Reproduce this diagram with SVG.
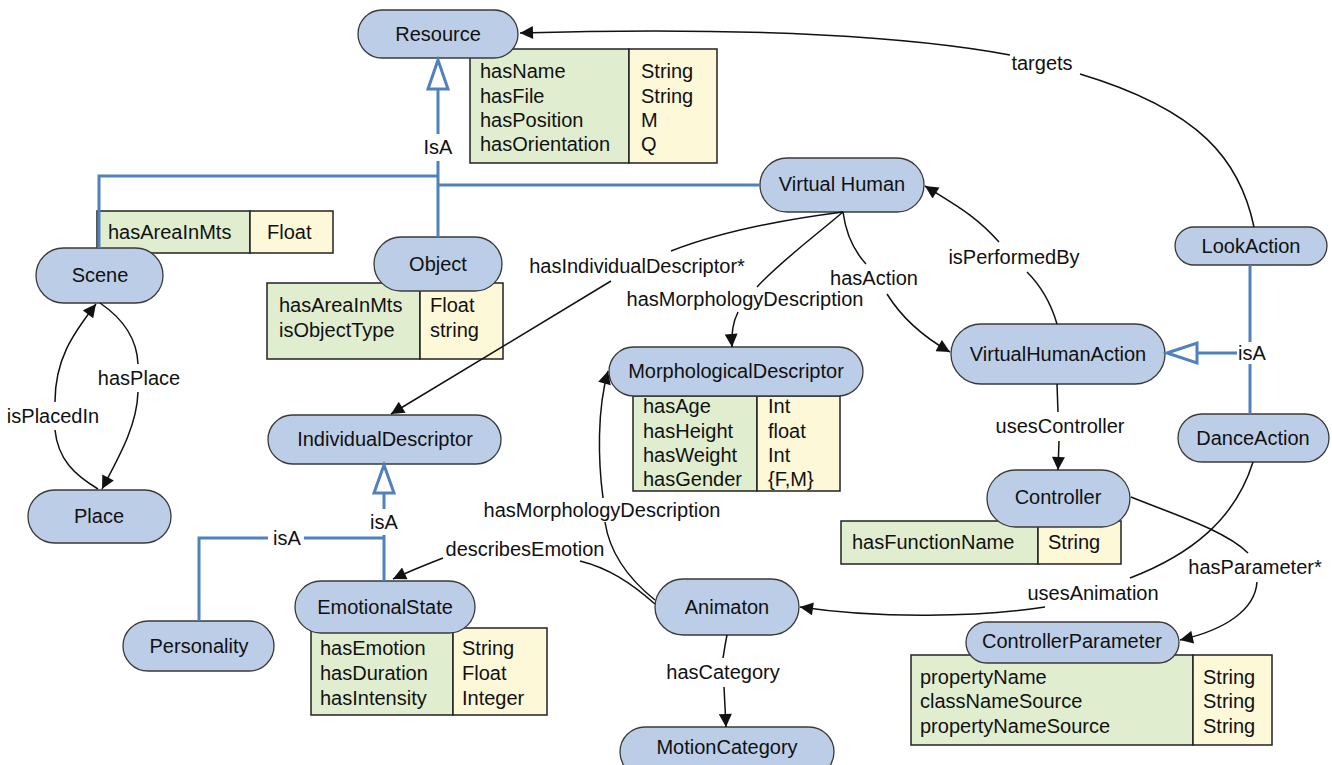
<svg xmlns="http://www.w3.org/2000/svg" width="1332" height="765" viewBox="0 0 1332 765">
<defs>
<style>
text{font-family:"Liberation Sans",Arial,sans-serif;font-size:20px;fill:#111}
.lbl{text-anchor:middle}
.pill{fill:#bccee7;stroke:#3a3a3a;stroke-width:1.3}
.g{fill:#e0eecf;stroke:#222;stroke-width:1.5}
.y{fill:#fdf8d7;stroke:#222;stroke-width:1.5}
.e{fill:none;stroke:#111;stroke-width:1.5}
.b{fill:none;stroke:#4f81bd;stroke-width:3}
.tri{fill:#fff;stroke:#4f81bd;stroke-width:3}
</style>
<marker id="arr" viewBox="0 0 10 10" refX="10" refY="5" markerWidth="15" markerHeight="13" orient="auto" markerUnits="userSpaceOnUse"><path d="M0,0 L10,5 L0,10 z" fill="#111"/></marker>
</defs>
<rect width="1332" height="765" fill="#fff"/>

<g id="resource">
<rect class="g" x="470" y="49" width="159" height="114"/><rect class="y" x="629" y="49" width="88" height="114"/>
<text x="480" y="78">hasName</text><text x="480" y="103">hasFile</text><text x="480" y="127">hasPosition</text><text x="480" y="151">hasOrientation</text>
<text x="641" y="78">String</text><text x="641" y="103">String</text><text x="641" y="127">M</text><text x="641" y="151">Q</text>
<rect class="pill" x="358" y="10" width="160" height="48" rx="24"/><text class="lbl" x="438" y="41">Resource</text>
</g>
<g id="scene">
<rect class="g" x="97" y="211" width="153" height="42"/><rect class="y" x="250" y="211" width="83" height="42"/>
<text x="108" y="239">hasAreaInMts</text><text x="267" y="239">Float</text>
<rect class="pill" x="36" y="248" width="127" height="55" rx="27.5"/><text class="lbl" x="100" y="282">Scene</text>
</g>
<g id="object">
<rect class="g" x="267" y="283" width="153" height="76"/><rect class="y" x="420" y="283" width="83" height="76"/>
<text x="279" y="312">hasAreaInMts</text><text x="279" y="337">isObjectType</text>
<text x="430" y="312">Float</text><text x="430" y="337">string</text>
<rect class="pill" x="374" y="237" width="128" height="54" rx="27"/><text class="lbl" x="438" y="271">Object</text>
</g>
<g id="virtualhuman">
<rect class="pill" x="760" y="158" width="164" height="54" rx="27"/><text class="lbl" x="842" y="191">Virtual Human</text>
</g>
<g id="lookaction">
<rect class="pill" x="1175" y="227" width="152" height="38" rx="19"/><text class="lbl" x="1251" y="253">LookAction</text>
</g>
<g id="morphologicaldescriptor">
<rect class="g" x="633" y="396" width="124" height="95"/><rect class="y" x="757" y="396" width="83" height="95"/>
<text x="643" y="413">hasAge</text><text x="643" y="438">hasHeight</text><text x="643" y="462">hasWeight</text><text x="643" y="486">hasGender</text>
<text x="768" y="413">Int</text><text x="768" y="438">float</text><text x="768" y="462">Int</text><text x="768" y="486">{F,M}</text>
<rect class="pill" x="609" y="347" width="254" height="49" rx="24.5"/><text class="lbl" x="736" y="378">MorphologicalDescriptor</text>
</g>
<g id="virtualhumanaction">
<rect class="pill" x="951" y="324" width="214" height="60" rx="30"/><text class="lbl" x="1058" y="361">VirtualHumanAction</text>
</g>
<g id="individualdescriptor">
<rect class="pill" x="268" y="415" width="233" height="49" rx="24.5"/><text class="lbl" x="385" y="446">IndividualDescriptor</text>
</g>
<g id="danceaction">
<rect class="pill" x="1178" y="414" width="151" height="48" rx="24"/><text class="lbl" x="1253" y="445">DanceAction</text>
</g>
<g id="controller">
<rect class="g" x="841" y="521" width="197" height="43"/><rect class="y" x="1038" y="521" width="83" height="43"/>
<text x="852" y="549">hasFunctionName</text><text x="1048" y="549">String</text>
<rect class="pill" x="987" y="470" width="143" height="57" rx="28.5"/><text class="lbl" x="1058" y="504">Controller</text>
</g>
<g id="place">
<rect class="pill" x="28" y="490" width="143" height="53" rx="26.5"/><text class="lbl" x="99" y="523">Place</text>
</g>
<g id="emotionalstate">
<rect class="g" x="311" y="628" width="142" height="87"/><rect class="y" x="453" y="628" width="94" height="87"/>
<text x="320" y="655">hasEmotion</text><text x="320" y="680">hasDuration</text><text x="320" y="705">hasIntensity</text>
<text x="462" y="655">String</text><text x="462" y="680">Float</text><text x="462" y="705">Integer</text>
<rect class="pill" x="295" y="581" width="180" height="52" rx="26"/><text class="lbl" x="385" y="614">EmotionalState</text>
</g>
<g id="animaton">
<rect class="pill" x="655" y="579" width="144" height="56" rx="28"/><text class="lbl" x="727" y="614">Animaton</text>
</g>
<g id="controllerparameter">
<rect class="g" x="911" y="655" width="282" height="90"/><rect class="y" x="1193" y="655" width="79" height="90"/>
<text x="920" y="684">propertyName</text><text x="920" y="708">classNameSource</text><text x="920" y="733">propertyNameSource</text>
<text x="1203" y="684">String</text><text x="1203" y="708">String</text><text x="1203" y="733">String</text>
<rect class="pill" x="966" y="622" width="213" height="41" rx="20.5"/><text class="lbl" x="1072" y="648">ControllerParameter</text>
</g>
<g id="personality">
<rect class="pill" x="123" y="621" width="151" height="50" rx="25"/><text class="lbl" x="199" y="653">Personality</text>
</g>
<g id="motioncategory">
<rect class="pill" x="620" y="727" width="214" height="50" rx="25"/><text class="lbl" x="727" y="754">MotionCategory</text>
</g>

<g id="connectors">
<!-- isA to Resource -->
<path class="b" d="M438,89 V134 M438,161 V237 M99,248 V176 H438 M438,185 H760"/>
<polygon class="tri" points="438,60 428,89 448,89"/>
<text class="lbl" x="438" y="154">IsA</text>
<!-- isA to VirtualHumanAction -->
<path class="b" d="M1250,265 V342 M1250,364 V414 M1237,353 H1197"/>
<polygon class="tri" points="1167,353 1197,343 1197,363"/>
<text class="lbl" x="1252" y="360">isA</text>
<!-- isA to IndividualDescriptor -->
<path class="b" d="M384,493 V509 M384,535 V581 M199,621 V538 H268 M304,538 H384"/>
<polygon class="tri" points="384,465 374,493 394,493"/>
<text class="lbl" x="384" y="529">isA</text>
<text class="lbl" x="287" y="545">isA</text>
<!-- targets -->
<path class="e" d="M1254,227 C1240,160 1200,110 1080,74"/>
<path class="e" d="M1010,55 C920,38 760,26 520,33" marker-end="url(#arr)"/>
<text class="lbl" x="1042" y="70">targets</text>
<!-- isPerformedBy -->
<path class="e" d="M1057,324 C1050,300 1040,285 1027,272"/>
<path class="e" d="M999,242 C975,215 955,205 925,186" marker-end="url(#arr)"/>
<text class="lbl" x="1014" y="264">isPerformedBy</text>
<!-- hasAction -->
<path class="e" d="M843,212 C846,235 855,252 866,264"/>
<path class="e" d="M887,294 C900,315 920,335 950,352" marker-end="url(#arr)"/>
<text class="lbl" x="874" y="285">hasAction</text>
<!-- hasMorphologyDescription from VH -->
<path class="e" d="M843,212 C810,240 780,262 757,287"/>
<path class="e" d="M738,312 C733,322 731,332 732,347" marker-end="url(#arr)"/>
<text class="lbl" x="745" y="306">hasMorphologyDescription</text>
<!-- hasIndividualDescriptor* -->
<path class="e" d="M843,212 C780,220 720,232 671,251"/>
<path class="e" d="M611,281 L391,414" marker-end="url(#arr)"/>
<text class="lbl" x="637" y="273">hasIndividualDescriptor*</text>
<!-- hasPlace -->
<path class="e" d="M100,303 C125,320 137,340 138,364"/>
<path class="e" d="M138,392 C137,425 120,455 102,489" marker-end="url(#arr)"/>
<text class="lbl" x="139" y="385">hasPlace</text>
<!-- isPlacedIn -->
<path class="e" d="M98,489 C75,475 58,460 55,430"/>
<path class="e" d="M55,402 C55,360 72,335 96,304" marker-end="url(#arr)"/>
<text class="lbl" x="53" y="423">isPlacedIn</text>
<!-- usesController -->
<path class="e" d="M1057,384 L1058,412"/>
<path class="e" d="M1059,441 L1058,470" marker-end="url(#arr)"/>
<text class="lbl" x="1060" y="433">usesController</text>
<!-- usesAnimation -->
<path class="e" d="M1253,462 C1235,520 1190,555 1130,578"/>
<path class="e" d="M1045,607 C980,617 880,619 800,607" marker-end="url(#arr)"/>
<text class="lbl" x="1093" y="600">usesAnimation</text>
<!-- hasParameter* -->
<path class="e" d="M1131,497 C1170,513 1225,530 1248,553"/>
<path class="e" d="M1257,582 C1255,610 1225,630 1180,640" marker-end="url(#arr)"/>
<text class="lbl" x="1255" y="574">hasParameter*</text>
<!-- hasMorphologyDescription from Animaton -->
<path class="e" d="M655,600 C630,580 610,555 605,522"/>
<path class="e" d="M603,498 C598,460 597,410 608,371" marker-end="url(#arr)"/>
<text class="lbl" x="602" y="517">hasMorphologyDescription</text>
<!-- describesEmotion -->
<path class="e" d="M655,604 C630,582 608,568 580,561"/>
<path class="e" d="M443,558 C425,565 410,571 393,579" marker-end="url(#arr)"/>
<text class="lbl" x="525" y="556">describesEmotion</text>
<!-- hasCategory -->
<path class="e" d="M727,635 C725,645 724,652 723,658"/>
<path class="e" d="M724,687 L726,727" marker-end="url(#arr)"/>
<text class="lbl" x="723" y="679">hasCategory</text>
</g>
</svg>
